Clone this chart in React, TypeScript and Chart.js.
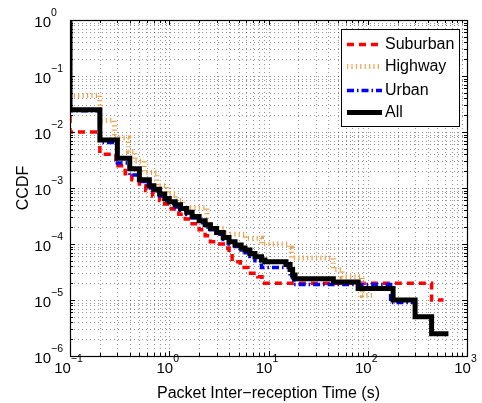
import React, { useEffect, useRef } from 'react';
import { Chart, registerables } from 'chart.js';

Chart.register(...registerables);

const X_MIN = 0.1;
const X_MAX = 1000;
const Y_MIN = 1e-6;
const Y_MAX = 1;

const seriesNames = ['Suburban', 'Highway', 'Urban', 'All'];

const xTickExps = [-1, 0, 1, 2, 3];
const yTickExps = [0, -1, -2, -3, -4, -5, -6];

const xAxisTitle = 'Packet Inter\u2212reception Time (s)';
const yAxisTitle = 'CCDF';

// drop position (x) and CCDF level after the drop (y)
const suburbanX = [0.1, 0.1, 0.2, 0.29, 0.36, 0.42, 0.5, 0.58, 0.68, 0.8, 0.9, 1.05, 1.25, 1.45, 1.7, 2.0, 2.3, 2.6, 3.0, 3.5, 4.0, 4.3, 5.2, 6.2, 7.8, 8.6, 440, 580];
const suburbanY = [1, 0.01, 0.004, 0.0025, 0.0018, 0.0014, 0.0011, 0.0009, 0.00072, 0.0006, 0.00052, 0.00042, 0.00034, 0.00028, 0.00023, 0.00018, 0.00014, 0.00011, 0.0001, 0.000085, 0.00007, 0.000048, 0.000038, 0.00003, 0.000026, 0.00002, 0.00001, 0.00001];

const highwayX = [0.1, 0.1, 0.2, 0.28, 0.39, 0.45, 0.56, 0.75, 0.95, 1.15, 1.38, 2.4, 3.6, 5.8, 8.5, 16, 17, 45, 55, 88, 112];
const highwayY = [1, 0.045, 0.016, 0.0078, 0.0045, 0.003, 0.0019, 0.0011, 0.0008, 0.0006, 0.00044, 0.00019, 0.00015, 0.000127, 0.0001, 0.000085, 0.000056, 0.000035, 0.000026, 0.000012, 0.000012];

const urbanX = [0.1, 0.1, 0.2, 0.3, 0.4, 0.5, 0.6, 0.7, 0.8, 0.9, 1.0, 1.15, 1.3, 1.5, 1.7, 2.0, 2.3, 2.6, 3.0, 3.5, 4.0, 4.6, 5.3, 6.5, 7.3, 8.5, 16.5, 18, 170, 300];
const urbanY = [1, 0.024, 0.0065, 0.0028, 0.0017, 0.0013, 0.001, 0.00088, 0.00072, 0.0006, 0.00053, 0.00046, 0.0004, 0.00034, 0.00029, 0.00024, 0.0002, 0.00018, 0.00015, 0.00012, 0.0001, 0.00009, 0.00007, 0.00006, 0.00005, 0.000038, 0.000025, 0.000019, 0.000009, 0.000005];

const allX = [0.1, 0.1, 0.2, 0.3, 0.4, 0.5, 0.63, 0.7, 0.8, 0.9, 1.0, 1.15, 1.3, 1.5, 1.7, 2.0, 2.3, 2.6, 3.0, 3.5, 4.0, 4.6, 5.3, 5.8, 6.5, 7.3, 8.5, 9.2, 15, 16.5, 17.5, 18.5, 45, 80, 180, 300, 440, 650];
const allY = [1, 0.025, 0.0072, 0.0034, 0.0022, 0.0014, 0.0011, 0.00095, 0.00078, 0.00065, 0.00057, 0.0005, 0.00043, 0.00037, 0.00031, 0.00026, 0.00022, 0.00019, 0.00016, 0.00013, 0.00011, 0.000096, 0.000085, 0.000078, 0.000068, 0.000059, 0.000052, 0.000048, 0.000043, 0.000035, 0.000028, 0.000024, 0.000021, 0.000016, 0.00001, 0.000005, 0.0000025, 0.0000025];

const FONT = '"Liberation Sans", Arial, Helvetica, sans-serif';

const styles = [
  { color: 'rgb(255,0,0)', width: 3.5, dash: [7, 5] },
  { color: 'rgb(238,165,80)', width: 5, dash: [1.2, 3.2] },
  { color: 'rgb(0,0,255)', width: 3.5, dash: [7, 3, 1.5, 3] },
  { color: 'rgb(0,0,0)', width: 5, dash: [] as number[] },
];

const toPoints = (xs: number[], ys: number[]) => xs.map((x, i) => ({ x, y: ys[i] }));

function gridValues(minExp: number, maxExp: number) {
  const out: number[] = [];
  for (let d = minExp; d < maxExp; d++) {
    for (let m = 1; m <= 9; m++) out.push(m * Math.pow(10, d));
  }
  out.push(Math.pow(10, maxExp));
  return out;
}

function supText(exp: number) {
  return exp < 0 ? '\u2212' + Math.abs(exp) : String(exp);
}

const decor = {
  id: 'decor',
  beforeDatasetsDraw(chart: any) {
    const { ctx, chartArea: a, scales } = chart;
    const xs = scales.x;
    const ys = scales.y;
    ctx.save();
    ctx.strokeStyle = 'rgba(0,0,0,0.42)';
    ctx.lineWidth = 1;
    ctx.setLineDash([1, 3]);
    for (const v of gridValues(-1, 3)) {
      const px = Math.round(xs.getPixelForValue(v)) + 0.5;
      ctx.beginPath();
      ctx.moveTo(px, a.top);
      ctx.lineTo(px, a.bottom);
      ctx.stroke();
    }
    for (const v of gridValues(-6, 0)) {
      const py = Math.round(ys.getPixelForValue(v)) + 0.5;
      ctx.beginPath();
      ctx.moveTo(a.left, py);
      ctx.lineTo(a.right, py);
      ctx.stroke();
    }
    ctx.restore();
  },
  afterDatasetsDraw(chart: any) {
    const { ctx, chartArea: a, scales } = chart;
    const xs = scales.x;
    const ys = scales.y;
    ctx.save();
    ctx.setLineDash([]);
    ctx.strokeStyle = '#000';
    ctx.lineWidth = 1.2;
    ctx.strokeRect(Math.round(a.left) + 0.5, Math.round(a.top) + 0.5, Math.round(a.right - a.left), Math.round(a.bottom - a.top));

    // ticks
    ctx.lineWidth = 1;
    for (const v of gridValues(-1, 3)) {
      const major = Math.abs(Math.log10(v) - Math.round(Math.log10(v))) < 1e-9;
      const len = major ? 5 : 3;
      const px = Math.round(xs.getPixelForValue(v)) + 0.5;
      ctx.beginPath();
      ctx.moveTo(px, a.bottom);
      ctx.lineTo(px, a.bottom - len);
      ctx.moveTo(px, a.top);
      ctx.lineTo(px, a.top + len);
      ctx.stroke();
    }
    for (const v of gridValues(-6, 0)) {
      const major = Math.abs(Math.log10(v) - Math.round(Math.log10(v))) < 1e-9;
      const len = major ? 5 : 3;
      const py = Math.round(ys.getPixelForValue(v)) + 0.5;
      ctx.beginPath();
      ctx.moveTo(a.left, py);
      ctx.lineTo(a.left + len, py);
      ctx.moveTo(a.right, py);
      ctx.lineTo(a.right - len, py);
      ctx.stroke();
    }

    // tick labels
    ctx.fillStyle = '#000';
    ctx.textBaseline = 'alphabetic';
    ctx.textAlign = 'left';
    const baseFont = '15px ' + FONT;
    const supFont = '10.5px ' + FONT;
    for (const e of yTickExps) {
      const py = ys.getPixelForValue(Math.pow(10, e));
      ctx.font = baseFont;
      const bw = ctx.measureText('10').width;
      ctx.fillText('10', 51 - bw, py + 7);
      ctx.font = supFont;
      ctx.fillText(supText(e), 51, py - 4);
    }
    for (const e of xTickExps) {
      const px = xs.getPixelForValue(Math.pow(10, e));
      ctx.font = baseFont;
      const bw = ctx.measureText('10').width;
      ctx.font = supFont;
      const sw = ctx.measureText(supText(e)).width;
      const start = px - 1.5 - (bw + sw) / 2;
      ctx.font = baseFont;
      ctx.fillText('10', start, a.bottom + 17);
      ctx.font = supFont;
      ctx.fillText(supText(e), start + bw, a.bottom + 6);
    }

    // axis titles
    ctx.font = '16px ' + FONT;
    ctx.textAlign = 'center';
    ctx.fillText(xAxisTitle, (a.left + a.right) / 2, 398);
    ctx.save();
    ctx.translate(28, (a.top + a.bottom) / 2);
    ctx.rotate(-Math.PI / 2);
    ctx.fillText(yAxisTitle, 0, 0);
    ctx.restore();

    // legend
    const lx = 341, ly = 29, lw = 118, lh = 97;
    ctx.fillStyle = '#fff';
    ctx.fillRect(lx, ly, lw, lh);
    ctx.strokeStyle = '#000';
    ctx.lineWidth = 1;
    ctx.strokeRect(lx + 0.5, ly + 0.5, lw, lh);
    const rows = [44, 66, 90, 112];
    seriesNames.forEach((name, i) => {
      const s = styles[i];
      ctx.save();
      ctx.strokeStyle = s.color;
      ctx.lineWidth = s.width;
      ctx.lineCap = 'butt';
      ctx.setLineDash(s.dash);
      ctx.beginPath();
      ctx.moveTo(347, rows[i] + 0.5);
      ctx.lineTo(382, rows[i] + 0.5);
      ctx.stroke();
      ctx.restore();
      ctx.fillStyle = '#000';
      ctx.font = '16px ' + FONT;
      ctx.textAlign = 'left';
      ctx.textBaseline = 'middle';
      ctx.fillText(name, 385, rows[i] + 1);
    });
    ctx.restore();
  },
};

export default function App() {
  const ref = useRef<HTMLCanvasElement | null>(null);
  useEffect(() => {
    if (!ref.current) return;
    const seriesData = [
      toPoints(suburbanX, suburbanY),
      toPoints(highwayX, highwayY),
      toPoints(urbanX, urbanY),
      toPoints(allX, allY),
    ];
    const chart = new Chart(ref.current, {
      type: 'line',
      data: {
        datasets: seriesNames.map((name, i) => ({
          label: name,
          data: seriesData[i],
          borderColor: styles[i].color,
          borderWidth: styles[i].width,
          borderDash: styles[i].dash,
          borderCapStyle: 'butt',
          borderJoinStyle: 'miter',
          stepped: 'before',
          pointRadius: 0,
          fill: false,
          order: 3 - i,
        })),
      },
      options: {
        responsive: false,
        animation: false,
        devicePixelRatio: 1,
        layout: { padding: { left: 70, right: 15, top: 20, bottom: 47 } },
        plugins: { legend: { display: false }, tooltip: { enabled: false }, title: { display: false } },
        scales: {
          x: { type: 'logarithmic', min: X_MIN, max: X_MAX, display: false },
          y: { type: 'logarithmic', min: Y_MIN, max: Y_MAX, display: false },
        },
      },
      plugins: [decor],
    } as any);
    return () => chart.destroy();
  }, []);
  return (
    <canvas
      ref={ref}
      width={482}
      height={403}
      style={{ position: 'absolute', left: 0, top: 0, width: 482, height: 403, display: 'block', background: '#fff' }}
    />
  );
}
